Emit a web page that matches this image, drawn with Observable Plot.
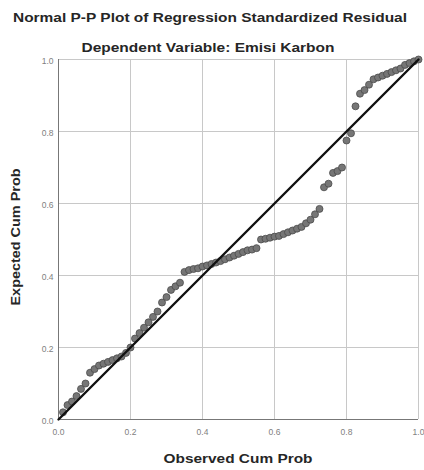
<!DOCTYPE html>
<html><head><meta charset="utf-8">
<script src="https://cdn.jsdelivr.net/npm/d3@7"></script>
<script src="https://cdn.jsdelivr.net/npm/@observablehq/plot@0.6"></script>
<style>body{margin:0;background:#fff;font-family:"Liberation Sans",Arial,sans-serif}</style>
</head><body><div id="chart"></div>
<script>
const titleText = "Normal P-P Plot of Regression Standardized Residual";
const subtitleText = "Dependent Variable: Emisi Karbon";
const xLabel = "Observed Cum Prob";
const yLabel = "Expected Cum Prob";
const tickValues = [0, 0.2, 0.4, 0.6, 0.8, 1.0];
const tickLabels = ["0.0", "0.2", "0.4", "0.6", "0.8", "1.0"];

const observed = [0.0125,0.025,0.0375,0.05,0.0625,0.075,0.0875,0.1,0.1125,0.125,0.1375,0.15,0.1625,0.175,0.1875,0.2,0.2125,0.225,0.2375,0.25,0.2625,0.275,0.2875,0.3,0.3125,0.325,0.3375,0.35,0.3625,0.375,0.3875,0.4,0.4125,0.425,0.4375,0.45,0.4625,0.475,0.4875,0.5,0.5125,0.525,0.5375,0.55,0.5625,0.575,0.5875,0.6,0.6125,0.625,0.6375,0.65,0.6625,0.675,0.6875,0.7,0.7125,0.725,0.7375,0.75,0.7625,0.775,0.7875,0.8,0.8125,0.825,0.8375,0.85,0.8625,0.875,0.8875,0.9,0.9125,0.925,0.9375,0.95,0.9625,0.975,0.9875,1.0];
const expected = [0.02,0.04,0.05,0.065,0.085,0.10,0.13,0.14,0.15,0.155,0.16,0.165,0.17,0.175,0.185,0.20,0.225,0.24,0.255,0.27,0.285,0.30,0.325,0.34,0.36,0.37,0.38,0.41,0.415,0.418,0.42,0.425,0.428,0.432,0.436,0.44,0.445,0.45,0.455,0.46,0.465,0.47,0.472,0.476,0.50,0.502,0.505,0.508,0.51,0.515,0.52,0.525,0.53,0.535,0.545,0.555,0.57,0.585,0.645,0.655,0.685,0.69,0.70,0.775,0.795,0.87,0.905,0.915,0.93,0.945,0.95,0.955,0.96,0.965,0.97,0.975,0.985,0.99,0.995,1.0];
const diagonal = [0, 1];

const pts = observed.map((x, i) => ({x, y: expected[i]}));
const diag = diagonal.map(v => ({x: v, y: v}));
const fmt = d => tickLabels[tickValues.indexOf(d)];
const bold = {fontWeight: "bold", fill: "#262626", lineAnchor: "middle", textAnchor: "middle"};

const chart = Plot.plot({
  width: 424, height: 470,
  marginTop: 59, marginLeft: 58, marginRight: 6, marginBottom: 51,
  style: {fontFamily: "'Liberation Sans', Arial, sans-serif", background: "#fff"},
  x: {domain: [0, 1], ticks: tickValues, tickFormat: fmt, label: null},
  y: {domain: [0, 1], ticks: tickValues, tickFormat: fmt, label: null},
  marks: [
    Plot.gridX(tickValues, {stroke: "#c8c8c8", strokeOpacity: 1, strokeWidth: 1}),
    Plot.gridY(tickValues, {stroke: "#c8c8c8", strokeOpacity: 1, strokeWidth: 1}),
    Plot.ruleX([0], {stroke: "#777", strokeWidth: 1}),
    Plot.ruleY([0], {stroke: "#777", strokeWidth: 1}),
    Plot.axisX(tickValues, {tickSize: 0, tickPadding: 9, fontSize: 8.5, fill: "#808080", tickFormat: fmt, label: null}),
    Plot.axisY(tickValues, {tickSize: 0, tickPadding: 5, fontSize: 8.5, fill: "#808080", tickFormat: fmt, label: null, dy: 2}),
    Plot.dot(pts, {x: "x", y: "y", r: 3.5, fill: "#767676", stroke: "#4a4a4a", strokeWidth: 0.8}),
    Plot.line(diag, {x: "x", y: "y", stroke: "#111", strokeWidth: 2.4}),
    Plot.text([titleText], {...bold, frameAnchor: "top", dy: -41.5, dx: -28.5, fontSize: 12.5, className: "t-title"}),
    Plot.text([subtitleText], {...bold, frameAnchor: "top", dy: -12, dx: -30.5, fontSize: 12.5, className: "t-sub"}),
    Plot.text([xLabel], {...bold, frameAnchor: "bottom", dy: 39, dx: -0.5, fontSize: 13, className: "t-x"}),
    Plot.text([yLabel], {...bold, frameAnchor: "left", dx: -43, dy: -2.5, rotate: -90, fontSize: 13, className: "t-y"})
  ]
});
const fit = {"t-title": 394, "t-sub": 253, "t-x": 149, "t-y": 137};
for (const [cls, len] of Object.entries(fit)) {
  chart.querySelectorAll(`g.${cls} text`).forEach(t => {
    t.setAttribute("textLength", len);
    t.setAttribute("lengthAdjust", "spacingAndGlyphs");
  });
}
document.getElementById("chart").appendChild(chart);
</script></body></html>
